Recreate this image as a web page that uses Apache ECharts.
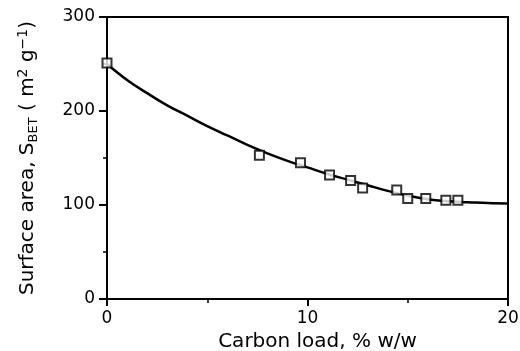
<!DOCTYPE html>
<html><head><meta charset="utf-8">
<script src="https://cdn.jsdelivr.net/npm/echarts@6/dist/echarts.min.js"></script>
<style>html,body{margin:0;padding:0;background:#fff}#c{width:520px;height:351px}</style>
</head><body><div id="c"></div>
<script>
// measured points (carbon load %, surface area)
const pointX = [0, 7.6, 9.65, 11.1, 12.15, 12.75, 14.45, 15.0, 15.9, 16.9, 17.5];
const pointY = [251, 153, 145, 132, 126, 118, 116, 107, 107, 105, 105];
// fitted curve
const curveX = [0, 1, 2, 3, 4, 5, 6, 7, 8, 9, 10, 11, 12, 13, 14, 15, 16, 17, 18, 19, 20];
const curveY = [250, 233, 219, 206, 195, 184, 174, 164, 155, 147, 140, 133, 127, 121, 115, 110, 106, 104, 103, 102, 101.5];
const xTicks = [0, 10, 20];
const yTicks = [0, 100, 200, 300];

const F = 'DejaVu Sans';
const chart = echarts.init(document.getElementById('c'));
chart.setOption({
  animation: false,
  backgroundColor: '#fff',
  grid: {left: 107, right: 12, top: 17, bottom: 52, show: true, borderColor: '#000', borderWidth: 2,
         backgroundColor: 'transparent', containLabel: false, outerBoundsMode: 'none'},
  xAxis: {
    type: 'value', min: xTicks[0], max: xTicks[xTicks.length-1], interval: 10,
    name: 'Carbon load, % w/w', nameLocation: 'middle', nameGap: 33,
    nameTextStyle: {fontFamily: F, fontSize: 20, color: '#000', padding: [0,0,0,20]},
    axisLine: {show: true, lineStyle: {color: '#000', width: 2}},
    axisTick: {show: true, length: 7, lineStyle: {color: '#000', width: 2}},
    minorTick: {show: true, splitNumber: 2, length: 4, lineStyle: {color: '#000', width: 1.5}},
    axisLabel: {fontFamily: F, fontSize: 17, color: '#000', margin: 11},
    splitLine: {show: false}
  },
  yAxis: {
    type: 'value', min: yTicks[0], max: yTicks[yTicks.length-1], interval: 100,
    name: 'Surface area, S{sub|BET} ( m{sup|2} g{sup|−1})', nameLocation: 'middle', nameGap: 67, nameRotate: 90,
    nameTextStyle: {fontFamily: F, fontSize: 20, color: '#000',
      rich: {
        sub: {fontFamily: F, fontSize: 13, color: '#000', verticalAlign: 'bottom', padding: [10,0,0,0]},
        sup: {fontFamily: F, fontSize: 14, color: '#000', verticalAlign: 'top', padding: [0,0,10,0]}
      }},
    axisLine: {show: true, lineStyle: {color: '#000', width: 2}},
    axisTick: {show: true, length: 8, lineStyle: {color: '#000', width: 2}},
    minorTick: {show: true, splitNumber: 2, length: 4, lineStyle: {color: '#000', width: 1.5}},
    axisLabel: {fontFamily: F, fontSize: 17, color: '#000', margin: 12},
    splitLine: {show: false}
  },
  series: [
    {type: 'line', data: curveX.map((x,i)=>[x, curveY[i]]), smooth: 0.4, showSymbol: false,
     lineStyle: {color: '#000', width: 2.5}, z: 2},
    {type: 'scatter', data: pointX.map((x,i)=>[x, pointY[i]]), symbol: 'rect', symbolSize: 9,
     itemStyle: {color: '#fff', borderColor: '#000', borderWidth: 2}, z: 3}
  ]
});
</script></body></html>
